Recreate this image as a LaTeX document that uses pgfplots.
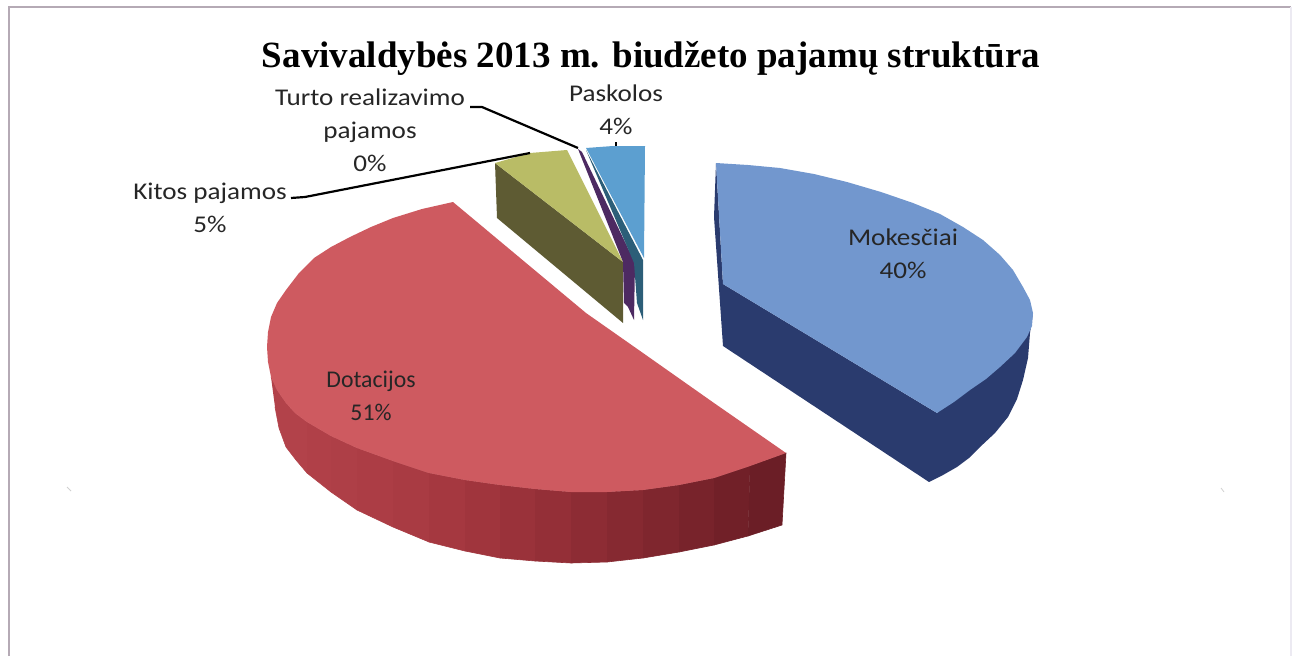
\documentclass[border=0pt]{standalone}
\usepackage{pgfplots}
\pgfplotsset{compat=1.18}
\usepackage{fontspec}
\setmainfont{Carlito}
\newfontfamily\titlefont{Liberation Serif}
\newfontfamily\labfont[FakeStretch=1.13]{Carlito}
\newfontfamily\labfontb[FakeStretch=0.99]{Carlito}
\definecolor{blueT}{HTML}{7297CE}
\definecolor{blueS}{HTML}{2A3B6E}
\definecolor{khakiT}{HTML}{B9BC66}
\definecolor{khakiS}{HTML}{5E5B33}
\definecolor{purp}{HTML}{4D2A62}
\definecolor{teal2}{HTML}{2C5E78}
\definecolor{lblue}{HTML}{5C9FD0}
\definecolor{redT}{HTML}{CE5A60}
\definecolor{frameC}{HTML}{B5AAB5}
\definecolor{frameL}{HTML}{ECEAF2}
\definecolor{speck}{HTML}{D0D0D0}
\pgfplotsset{rs/.style n args={3}{fill={rgb,255:red,#1;green,#2;blue,#3},draw={rgb,255:red,#1;green,#2;blue,#3},line width=.6pt}}
\begin{document}
\begin{tikzpicture}
\begin{axis}[
  scale only axis, width=1298pt, height=656pt,
  xmin=0, xmax=1298, ymin=0, ymax=656, y dir=reverse,
  axis lines=none, clip=true,
  every axis plot/.append style={no markers, draw=none}
]
% frame
\addplot[draw=frameC, line width=2pt] coordinates {(9,656) (9,7) (1291,7)};
\addplot[draw=frameL, line width=1.5pt] coordinates {(1291,7) (1291,656)};
% specks
\addplot[draw=speck, line width=.8pt] coordinates {(67,487) (71,491)};
\addplot[draw=speck, line width=.8pt] coordinates {(1221,488) (1224,492)};
% blue side
\addplot[fill=blueS] coordinates {(716,163) (714,217) (723,346) (929,482) (943,475) (957,467) (969,458) (980,447) (995,433) (1008,417) (1017,399) (1023,380) (1028,358) (1030,333) (1033,313) (937,413) (723,284)};
% blue top
\addplot[fill=blueT] coordinates {(716,163) (748,165) (780,168) (814,174) (847,182) (881,192) (913,203) (940,214) (963,227) (983,240) (1000,255) (1013,270) (1023,287) (1030,300) (1033,313) (1032,326) (1027,337) (1015,353) (1000,367) (986,379) (970,390) (954,402) (937,413) (723,284)};
% red side, in strips
\addplot[rs={178}{66}{74}] coordinates {(271,377) (277,390) (286,403) (295,413) (307,422) (307,473) (296,460) (286,447) (279,428) (275,407)};
\addplot[rs={176}{64}{72}] coordinates {(307,422) (331,436) (331,492) (307,473)};
\addplot[rs={174}{63}{71}] coordinates {(331,436) (357,448) (357,510) (331,492)};
\addplot[rs={172}{61}{69}] coordinates {(357,448) (393,461) (393,527) (357,510)};
\addplot[rs={169}{59}{67}] coordinates {(393,461) (429,473) (429,542) (393,527)};
\addplot[rs={165}{56}{64}] coordinates {(429,473) (465,480) (465,551) (429,542)};
\addplot[rs={160}{53}{61}] coordinates {(465,480) (500,485) (500,558) (465,551)};
\addplot[rs={154}{50}{58}] coordinates {(500,485) (535,489) (535,561) (500,558)};
\addplot[rs={148}{47}{55}] coordinates {(535,489) (571,492) (571,563) (535,561)};
\addplot[rs={141}{44}{52}] coordinates {(571,492) (607,492) (607,562) (571,563)};
\addplot[rs={134}{41}{49}] coordinates {(607,492) (643,490) (643,558) (607,562)};
\addplot[rs={127}{38}{46}] coordinates {(643,490) (679,485) (679,552) (643,558)};
\addplot[rs={120}{35}{43}] coordinates {(679,485) (714,478) (714,545) (679,552)};
\addplot[rs={113}{32}{40}] coordinates {(714,478) (750,466) (748,536) (714,545)};
\addplot[rs={107}{30}{38}] coordinates {(750,466) (786,453) (782,525) (748,536)};
% red top
\addplot[fill=redT] coordinates {(453,202) (586,313) (643,353) (714,403) (786,453) (750,466) (714,478) (679,485) (643,490) (607,492) (571,492) (535,489) (500,485) (465,480) (429,473) (393,461) (357,448) (331,436) (307,422) (295,413) (286,403) (277,390) (271,377) (268,362) (267,347) (268,332) (271,317) (277,303) (286,290) (299,273) (314,258) (331,247) (350,237) (371,227) (393,218) (422,209)};
% khaki
\addplot[fill=khakiS] coordinates {(495,163) (497,218) (623,323) (623,262)};
\addplot[fill=khakiT] coordinates {(495,163) (530,153) (567,150) (623,262)};
% purple
\addplot[fill=purp] coordinates {(578,149) (582,152) (635,263) (634,320) (628,307) (624,303) (623,262)};
% teal and light blue
\addplot[fill=teal2] coordinates {(586,150) (643,260) (643,320) (637,303) (634,263)};
\addplot[fill=lblue] coordinates {(586,148) (613,146) (645,146) (644,258)};
% leaders
\addplot[draw=black, line width=2.2pt] coordinates {(470,107) (482,107) (578,148)};
\addplot[draw=black, line width=2.2pt] coordinates {(291,198) (305,197) (530,153)};
\addplot[draw=black, line width=1.4pt] coordinates {(616,142) (616,146)};
% labels
\node[anchor=base, font=\titlefont\bfseries\fontsize{37}{37}\selectfont] at (axis cs:651,67) {Savivaldybės 2013 m. biudžeto pajamų struktūra};
\tikzset{lab/.style={align=center, font=\labfont\fontsize{24}{33}\selectfont, text=black!85, inner sep=0pt}}
\node[lab] at (axis cs:616,110) {Paskolos\\4\%};
\node[lab] at (axis cs:370,130) {Turto realizavimo\\pajamos\\0\%};
\node[lab] at (axis cs:210,208) {Kitos pajamos\\5\%};
\node[lab] at (axis cs:903,254) {Mokesčiai\\40\%};
\node[lab,font=\labfontb\fontsize{24}{33}\selectfont] at (axis cs:371,396) {Dotacijos\\51\%};
\end{axis}
\path (current axis.south west) rectangle (current axis.north east);
\end{tikzpicture}
\end{document}
